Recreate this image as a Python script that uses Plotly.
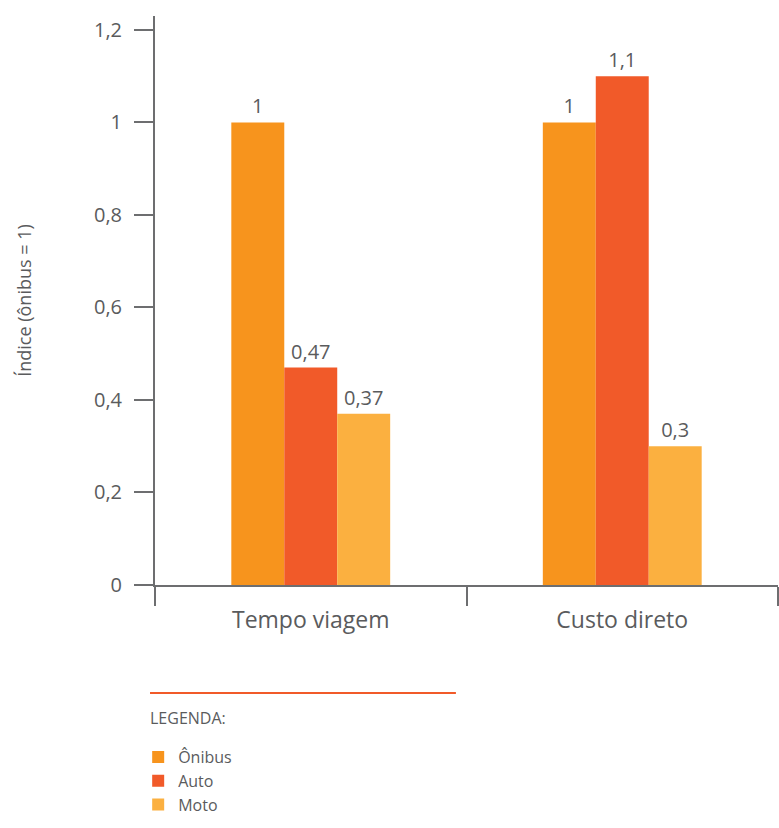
import plotly.graph_objects as go

# Índice relativo ao ônibus (ônibus = 1)
categories = ["Tempo viagem", "Custo direto"]
modes = ["Ônibus", "Auto", "Moto"]
onibus = [1, 1]
auto = [0.47, 1.1]
moto = [0.37, 0.3]
colors = ["#f7941d", "#f15a29", "#fbb040"]

y_ticks = [0, 0.2, 0.4, 0.6, 0.8, 1.0, 1.2]

TEXT = "#5a5b5d"
AXIS = "#6d6e70"
FONT = "Open Sans, sans-serif"


def fmt(v):
    return f"{v:g}".replace(".", ",")


fig = go.Figure()
for i, (name, vals) in enumerate(zip(modes, [onibus, auto, moto])):
    fig.add_trace(go.Bar(
        x=categories,
        y=vals,
        name=name,
        marker=dict(color=colors[i], line=dict(width=0)),
        text=[fmt(v) for v in vals],
        textposition="outside",
        textfont=dict(family=FONT, size=20, color=TEXT),
        cliponaxis=False,
        legendgroup=name,
    ))

fig.update_layout(
    width=779,
    height=828,
    margin=dict(l=155, r=1, t=16, b=243),
    paper_bgcolor="white",
    plot_bgcolor="white",
    separators=",.",
    barmode="group",
    bargap=0.49,
    bargroupgap=0,
    font=dict(family=FONT, color=TEXT),
    showlegend=True,
    legend=dict(
        orientation="v",
        x=-0.027,
        xanchor="left",
        y=-0.2724,
        yanchor="top",
        font=dict(family=FONT, size=16, color=TEXT),
        tracegroupgap=0,
        itemwidth=30,
        bgcolor="rgba(0,0,0,0)",
    ),
    xaxis=dict(
        type="category",
        tickson="boundaries",
        ticks="outside",
        ticklen=19,
        tickwidth=2,
        tickcolor=AXIS,
        showline=True,
        linecolor=AXIS,
        linewidth=2,
        showgrid=False,
        tickfont=dict(family=FONT, size=23, color=TEXT),
        ticklabelstandoff=13,
    ),
    yaxis=dict(
        range=[0, 1.23],
        tickvals=y_ticks,
        ticks="outside",
        ticklen=19,
        tickwidth=2,
        tickcolor=AXIS,
        showline=True,
        linecolor=AXIS,
        linewidth=2,
        showgrid=False,
        zeroline=False,
        tickfont=dict(family=FONT, size=20, color=TEXT),
        ticklabelstandoff=8,
        title=dict(text="Índice (ônibus = 1)", font=dict(family=FONT, size=18, color=TEXT), standoff=58),
    ),
    shapes=[
        dict(
            type="line", xref="paper", yref="paper",
            x0=-0.008, x1=0.483, y0=-0.19, y1=-0.19,
            line=dict(color="#f15a29", width=2),
        )
    ],
    annotations=[
        dict(
            text="LEGENDA:", xref="paper", yref="paper",
            x=-0.011, y=-0.2337, xanchor="left", yanchor="middle",
            showarrow=False, font=dict(family=FONT, size=16, color=TEXT),
        )
    ],
)

fig.write_html("out.html")
